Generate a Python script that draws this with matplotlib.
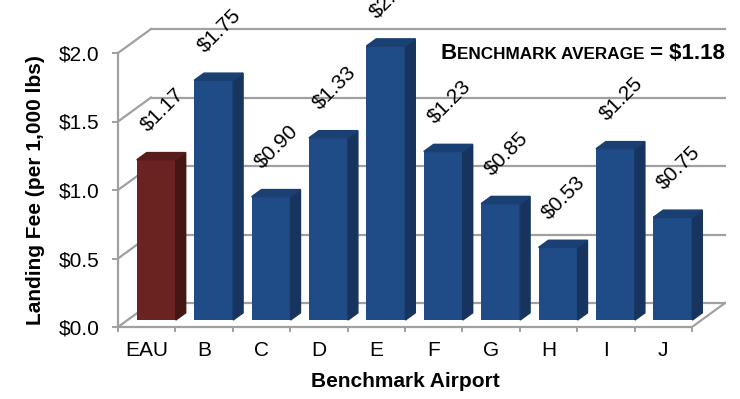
import matplotlib
matplotlib.use("Agg")
import matplotlib.pyplot as plt
from matplotlib.patches import Polygon

plt.rcParams["font.family"] = ["Liberation Sans", "DejaVu Sans"]

# data
airports = ["EAU", "B", "C", "D", "E", "F", "G", "H", "I", "J"]
fees = [1.17, 1.75, 0.90, 1.33, 2.00, 1.23, 0.85, 0.53, 1.25, 0.75]
fee_labels = ["$1.17", "$1.75", "$0.90", "$1.33", "$2.00", "$1.23", "$0.85", "$0.53", "$1.25", "$0.75"]
y_ticks = [0.0, 0.5, 1.0, 1.5, 2.0]
y_tick_labels = ["$0.0", "$0.5", "$1.0", "$1.5", "$2.0"]

# fake 3d geometry (data units)
DX, DY = 0.575, 0.175      # depth of the floor
FRONT = 0.29               # where the bar front sits in the depth
BAR_D = 0.30               # bar depth
BAR_W = 0.68
GRID = "#a0a0a0"

fig = plt.figure(figsize=(7.4, 3.99), dpi=100)
W, H = 740, 399
ax = fig.add_axes([118 / W, 72 / H, 10.6 * 57.4 / W, 2.2 * 137 / H])
ax.set_xlim(-0.5, 10.1)
ax.set_ylim(0, 2.2)

# back wall gridlines + left wall diagonals
x0, x1 = -0.5, len(airports) - 0.5
for v in y_ticks:
    ax.plot([x0 + DX, x1 + DX], [v + DY, v + DY], color=GRID, lw=1.6, zorder=1)
    ax.plot([x0, x0 + DX], [v, v + DY], color=GRID, lw=1.6, zorder=1)
# right edge of floor
ax.plot([x1, x1 + DX], [0, DY], color=GRID, lw=1.6, zorder=1)

sx, sy = FRONT * DX, FRONT * DY
bx, by = BAR_D * DX, BAR_D * DY
for i, v in enumerate(fees):
    if i == 0:
        front, side, top = "#6a2321", "#461614", "#581c1a"
    else:
        front, side, top = "#1f4b87", "#16345e", "#1a3f72"
    left = i - BAR_W / 2 + sx
    right = i + BAR_W / 2 + sx
    ax.bar(left, v, width=BAR_W, bottom=sy, align="edge", color=front, zorder=3)
    ax.add_patch(Polygon([(right, sy), (right + bx, sy + by), (right + bx, v + sy + by), (right, v + sy)],
                         closed=True, color=side, zorder=3))
    ax.add_patch(Polygon([(left, v + sy), (left + bx, v + sy + by), (right + bx, v + sy + by), (right, v + sy)],
                         closed=True, color=top, zorder=3))
    ax.annotate(fee_labels[i], (i + sx, v + sy), xytext=(4, 36), textcoords="offset points",
                ha="center", va="center", rotation=45, rotation_mode="anchor",
                fontsize=15, color="black", zorder=4, annotation_clip=False)

# axes styling
for s in ["top", "right"]:
    ax.spines[s].set_visible(False)
ax.spines["left"].set_bounds(0, 2)
ax.spines["bottom"].set_bounds(x0, x1)
for s in ["left", "bottom"]:
    ax.spines[s].set_color(GRID)
    ax.spines[s].set_linewidth(1.6)
    ax.spines[s].set_zorder(2)

ax.set_yticks(y_ticks)
ax.set_yticklabels(y_tick_labels)
ax.tick_params(axis="y", length=4.3, width=1.4, color=GRID, pad=9, labelsize=15)
ax.set_xticks(range(len(airports)))
ax.set_xticklabels(airports)
ax.set_xticks([i - 0.5 for i in range(len(airports) + 1)], minor=True)
ax.tick_params(axis="x", which="major", length=0, pad=10, labelsize=15)
ax.tick_params(axis="x", which="minor", length=3.6, width=1.4, color=GRID)

ax.set_xlabel("Benchmark Airport", fontsize=15, weight="bold")
ax.xaxis.set_label_coords((405 - 118) / 608.4, -(372 - 327) / 301.4)
ax.set_ylabel("Landing Fee (per 1,000 lbs)", fontsize=15, weight="bold")
ax.yaxis.set_label_coords((45 - 118) / 608.4, 1.0 / 2.2)

# "Benchmark average" note in small caps, built right to left
renderer = fig.canvas.get_renderer()
xr, yb = 725 / W, (H - 59) / H
parts = [(" = $1.18", 16), ("ENCHMARK AVERAGE", 12.3), ("B", 16)]
for txt, size in parts:
    t = fig.text(xr, yb, txt, ha="right", va="baseline", fontsize=size, weight="bold")
    bb = t.get_window_extent(renderer)
    xr = bb.x0 / W

fig.savefig("out.png", dpi=100)
